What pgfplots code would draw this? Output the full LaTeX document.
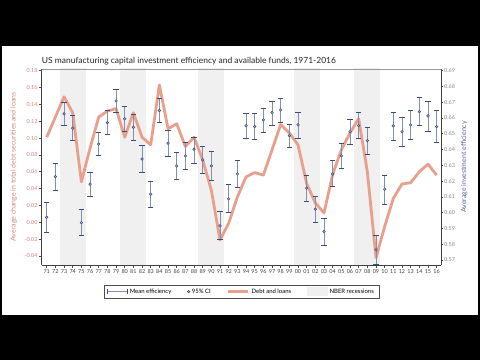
\documentclass[border=0pt]{standalone}
\usepackage{fontspec}
\setmainfont{Lato}
\usepackage{pgfplots}
\pgfplotsset{compat=1.18}
\usepackage{pgfplotstable}
\definecolor{salmon}{HTML}{E8A08C}
\definecolor{salmontxt}{HTML}{D08A76}
\definecolor{navy}{HTML}{3E4A7C}
\definecolor{navyl}{HTML}{8290B0}
\definecolor{mfill}{HTML}{AEB8D4}
\definecolor{recess}{HTML}{F0F0F0}
\definecolor{ticktxt}{HTML}{8A8A8A}
\definecolor{navytxt}{HTML}{5A6690}

\pgfplotstableread{
year debt
1971 0.101
1972 0.125
1973 0.149
1974 0.130
1975 0.048
1976 0.088
1977 0.125
1978 0.132
1979 0.135
1980 0.101
1981 0.130
1982 0.101
1983 0.092
1984 0.163
1985 0.111
1986 0.117
1987 0.090
1988 0.101
1989 0.074
1990 0.038
1991 -0.021
1992 -0.001
1993 0.030
1994 0.054
1995 0.059
1996 0.056
1997 0.086
1998 0.116
1999 0.106
2000 0.092
2001 0.046
2002 0.023
2003 0.011
2004 0.057
2005 0.086
2006 0.106
2007 0.123
2008 0.060
2009 -0.042
2010 -0.005
2011 0.0285
2012 0.0455
2013 0.047
2014 0.060
2015 0.069
2016 0.056
}\debttable

\pgfplotstableread{
year eff hi lo
1971 0.5970 0.6066 0.5876
1972 0.6228 0.6313 0.6140
1973 0.6626 0.6700 0.6550
1974 0.6535 0.6615 0.6460
1975 0.5937 0.6022 0.5853
1976 0.6180 0.6254 0.6106
1977 0.6434 0.6507 0.6360
1978 0.6570 0.6645 0.6493
1979 0.6708 0.6780 0.6634
1980 0.6594 0.6676 0.6513
1981 0.6541 0.6624 0.6456
1982 0.6340 0.6425 0.6256
1983 0.6117 0.6200 0.6032
1984 0.6647 0.6725 0.6570
1985 0.6440 0.6524 0.6355
1986 0.6296 0.6380 0.6212
1987 0.6360 0.6446 0.6277
1988 0.6402 0.6478 0.6313
1989 0.6334 0.6418 0.6250
1990 0.6296 0.6391 0.6207
1991 0.5916 0.6007 0.5832
1992 0.6087 0.6176 0.6003
1993 0.6245 0.6328 0.6161
1994 0.6551 0.6630 0.6472
1995 0.6545 0.6626 0.6465
1996 0.6588 0.6662 0.6509
1997 0.6634 0.6704 0.6550
1998 0.6651 0.6725 0.6570
1999 0.6488 0.6562 0.6412
2000 0.6556 0.6634 0.6472
2001 0.6155 0.6239 0.6070
2002 0.6022 0.6106 0.5939
2003 0.5880 0.5965 0.5793
2004 0.6245 0.6328 0.6169
2005 0.6360 0.6440 0.6281
2006 0.6513 0.6592 0.6434
2007 0.6551 0.6634 0.6472
2008 0.6456 0.6541 0.6370
2009 0.5764 0.5859 0.5669
2010 0.6148 0.6239 0.6055
2011 0.6550 0.6636 0.6461
2012 0.6513 0.6602 0.6418
2013 0.6556 0.6645 0.6467
2014 0.6640 0.6729 0.6550
2015 0.6613 0.6708 0.6513
2016 0.6545 0.6645 0.6444
}\efftable

\begin{document}
\begin{tikzpicture}
\fill[black] (0bp,0bp) rectangle (480bp,360bp);
\fill[white] (2bp,45bp) rectangle (478bp,314bp);
\node[anchor=base west, font=\fontsize{8.5}{10}\selectfont, text=black!85, inner sep=0] at (41.7bp,296bp) {US manufacturing capital investment efficiency and available funds, 1971-2016};
\begin{axis}[
  at={(41.7bp,95bp)}, anchor=south west, scale only axis,
  width=399.3bp, height=196bp,
  xmin=1970.42, xmax=2016.5, ymin=-0.0507, ymax=0.182,
  axis y line*=left, axis x line*=bottom,
  axis line style={black!75, line width=0.5bp},
  tick align=outside, major tick length=3bp,
  tick style={black!70, line width=0.5bp},
  xtick={1971,...,2016},
  xticklabels={71,72,73,74,75,76,77,78,79,80,81,82,83,84,85,86,87,88,89,90,91,92,93,94,95,96,97,98,99,00,01,02,03,04,05,06,07,08,09,10,11,12,13,14,15,16},
  xticklabel style={font=\fontsize{5.5}{6}\selectfont, text=black!75, inner sep=1bp},
  ytick={-0.04,-0.02,0,0.02,0.04,0.06,0.08,0.10,0.12,0.14,0.16,0.18},
  yticklabels={-0.04,-0.02,0.00,0.02,0.04,0.06,0.08,0.10,0.12,0.14,0.16,0.18},
  yticklabel style={font=\fontsize{5.5}{6}\selectfont, text=salmontxt, inner sep=1bp},
  ylabel={Average change in total debt securities and loans},
  ylabel style={at={(axis description cs:-0.07,0.5)}, anchor=center, font=\fontsize{7}{8}\selectfont, text=salmontxt},
]
\addplot[draw=none, fill=recess, forget plot] coordinates {(1972.5,-1) (1972.5,1) (1975.5,1) (1975.5,-1)} -- cycle;
\addplot[draw=none, fill=recess, forget plot] coordinates {(1979.5,-1) (1979.5,1) (1982.5,1) (1982.5,-1)} -- cycle;
\addplot[draw=none, fill=recess, forget plot] coordinates {(1988.5,-1) (1988.5,1) (1991.5,1) (1991.5,-1)} -- cycle;
\addplot[draw=none, fill=recess, forget plot] coordinates {(1999.5,-1) (1999.5,1) (2002.5,1) (2002.5,-1)} -- cycle;
\addplot[draw=none, fill=recess, forget plot] coordinates {(2006.5,-1) (2006.5,1) (2009.5,1) (2009.5,-1)} -- cycle;
\addplot[salmon, line width=2.8bp, line join=round, no marks] table[x=year, y=debt] {\debttable};
\end{axis}
\begin{axis}[
  at={(41.7bp,95bp)}, anchor=south west, scale only axis,
  width=399.3bp, height=196bp,
  xmin=1970.42, xmax=2016.5, ymin=0.5668, ymax=0.691,
  axis y line*=right, axis x line=none,
  axis line style={black!75, line width=0.5bp},
  tick align=outside, major tick length=2bp,
  tick style={black!70, line width=0.5bp},
  ytick={0.57,0.58,0.59,0.60,0.61,0.62,0.63,0.64,0.65,0.66,0.67,0.68,0.69},
  yticklabels={0.57,0.58,0.59,0.60,0.61,0.62,0.63,0.64,0.65,0.66,0.67,0.68,0.69},
  yticklabel style={font=\fontsize{5.5}{6}\selectfont, text=ticktxt, inner sep=1bp},
  ylabel={Average investment efficiency},
  ylabel style={at={(axis description cs:1.058,0.5)}, anchor=center, font=\fontsize{7}{8}\selectfont, text=navytxt},
  legend style={at={(0.5,-0.102)}, anchor=north, draw=black!70, line width=0.4bp,
    font=\fontsize{6}{7}\selectfont, inner xsep=3bp, inner ysep=1.5bp,
    /tikz/every even column/.append style={column sep=14bp}},
  legend columns=4, legend cell align=left,
  after end axis/.code={\draw[black!40, line width=0.5bp] (rel axis cs:0,1) -- (rel axis cs:1,1);},
]
\addlegendimage{legend image code/.code={\draw[navyl, line width=0.9bp] (0bp,0bp) -- (20bp,0bp); \draw[navy, line width=0.7bp] (0bp,-2.5bp) -- (0bp,2.5bp) (20bp,-2.5bp) -- (20bp,2.5bp);}}
\addlegendentry{Mean efficiency}
\addlegendimage{only marks, mark=*, mark size=1.3bp, mark options={fill=mfill, draw=navy, line width=0.5bp}}
\addlegendentry{95\% CI}
\addlegendimage{legend image code/.code={\draw[salmon, line width=2.8bp] (0bp,0bp) -- (20bp,0bp);}}
\addlegendentry{Debt and loans}
\addlegendimage{legend image code/.code={\fill[recess] (0bp,-4bp) rectangle (20bp,4bp);}}
\addlegendentry{NBER recessions}
\addplot[only marks, mark=*, mark size=1.3bp, mark options={fill=mfill, draw=navy, line width=0.5bp},
  error bars/.cd, y dir=both, y explicit,
  error bar style={navyl, line width=0.9bp},
  error mark options={navy, line width=0.7bp, mark size=2.7bp, rotate=90}]
  table[x=year, y=eff, y error plus expr=\thisrow{hi}-\thisrow{eff}, y error minus expr=\thisrow{eff}-\thisrow{lo}] {\efftable};
\end{axis}
\end{tikzpicture}
\end{document}
